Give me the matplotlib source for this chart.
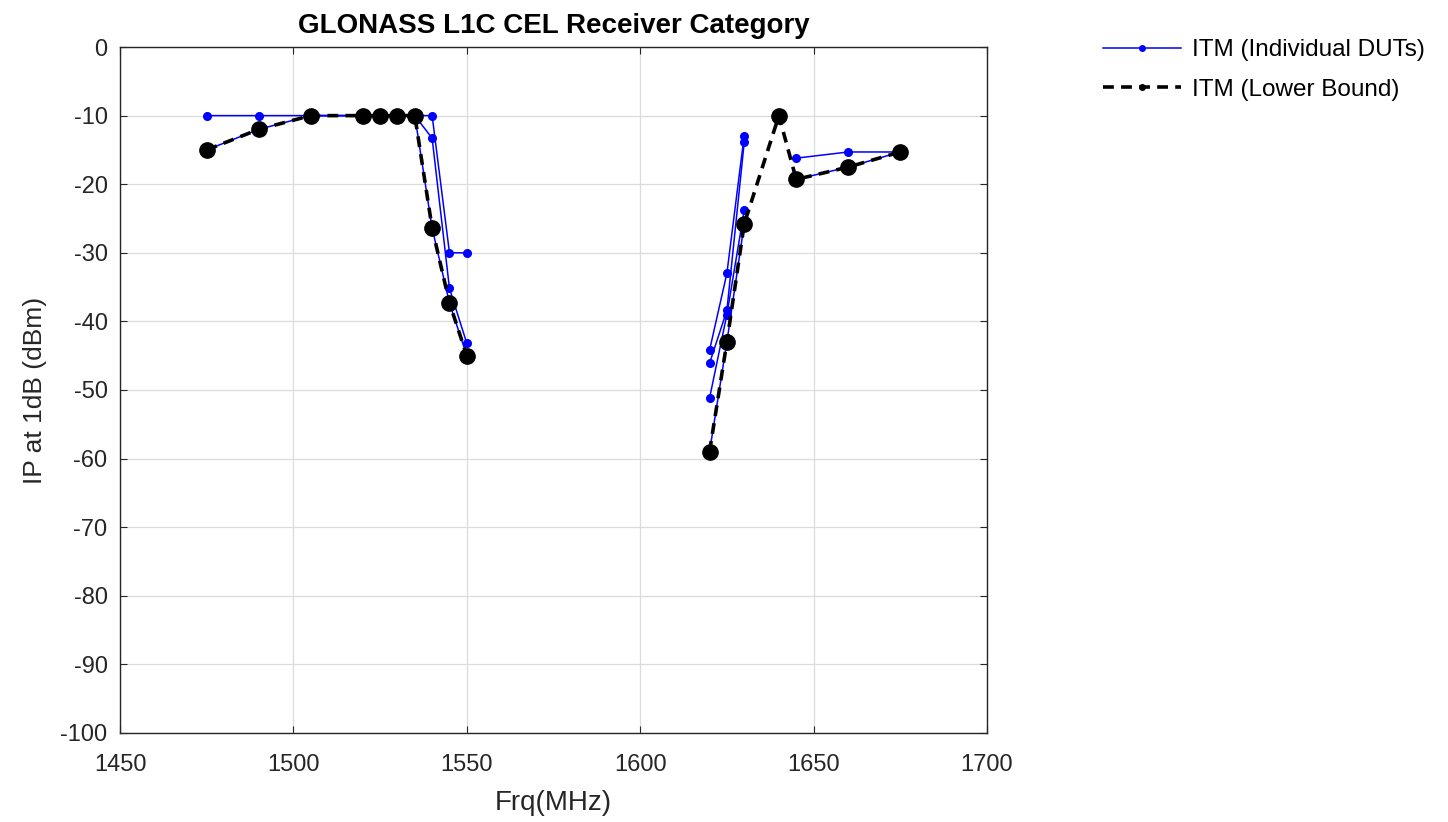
import numpy as np
import matplotlib.pyplot as plt
from matplotlib.lines import Line2D

nan = np.nan

# test frequencies (MHz)
freq = np.array([1475, 1490, 1505, 1520, 1525, 1530, 1535, 1540, 1545, 1550,
                 1620, 1625, 1630, 1640, 1645, 1660, 1675])

# IP at 1 dB (dBm) per device under test, NaN where not measured
dut_a = [-10, -10, -10, -10, -10, -10, -10, -10, -30, -30,
         -44.2, -33, -12.9, nan, -16.2, -15.3, -15.3]
dut_b = [-15, -12, -10, -10, -10, -10, -10, -26.4, -37.3, -45,
         -59, -43, -25.8, nan, -19.3, -17.5, -15.3]
dut_c = [nan, nan, -10, -10, -10, -10, -10, -13.3, -35.2, -43.2,
         -46.1, -38.4, -13.9, nan, nan, nan, nan]
dut_d = [nan, nan, nan, nan, nan, nan, nan, nan, nan, nan,
         -51.2, -39, -23.8, nan, nan, nan, nan]
dut_e = [nan, nan, nan, nan, nan, nan, nan, nan, nan, nan,
         nan, nan, nan, -10, nan, nan, nan]

duts = np.array([dut_a, dut_b, dut_c, dut_d, dut_e], dtype=float)
lower = np.nanmin(duts, axis=0)

# the two bands are drawn separately so no line jumps the gap
bands = [freq < 1600, freq > 1600]

plt.rcParams['font.family'] = ['Liberation Sans', 'DejaVu Sans']
plt.rcParams['axes.unicode_minus'] = False
fig = plt.figure(figsize=(14.48, 8.22), dpi=100)
ax = fig.add_axes([0.0829, 0.1083, 0.5987, 0.8345])

for d in duts:
    for b in bands:
        ax.plot(freq[b], d[b], color='#0000ff', lw=1.1, marker='o', ms=5.5,
                zorder=3)
for b in bands:
    ax.plot(freq[b], lower[b], color='black', ls=(0, (3, 2)), lw=2.6,
            marker='o', ms=11, zorder=4)

ax.set_xlim(1450, 1700)
ax.set_ylim(-100, 0)
ax.set_xticks(np.arange(1450, 1701, 50))
ax.set_yticks(np.arange(-100, 1, 10))
ax.tick_params(direction='in', labelsize=17, length=5, colors='#262626',
               top=True, right=True)
ax.tick_params(axis='x', pad=15)
ax.tick_params(axis='y', pad=9)
ax.grid(True, color='#dcdcdc', lw=0.9)
ax.set_axisbelow(True)
for s in ax.spines.values():
    s.set_color('#262626')
    s.set_linewidth(1.0)

ax.set_xlabel('Frq(MHz)', fontsize=20, color='#262626', labelpad=10)
ax.set_ylabel('IP at 1dB (dBm)', fontsize=19, color='#262626', labelpad=10)
ax.set_title('GLONASS L1C CEL Receiver Category', fontsize=20,
             fontweight='bold', pad=10)

handles = [Line2D([], [], color='#0000ff', lw=1.1, marker='o', ms=4),
           Line2D([], [], color='black', ls=(0, (3, 2)), lw=2.6, marker='o', ms=4)]
fig.legend(handles, ['ITM (Individual DUTs)', 'ITM (Lower Bound)'],
           loc='upper left', bbox_to_anchor=(0.7617, 0.952), frameon=False,
           fontsize=17.5, handlelength=3.2, handletextpad=0.45,
           labelspacing=0.72, borderpad=0, borderaxespad=0)

fig.savefig('out.png', dpi=100)
